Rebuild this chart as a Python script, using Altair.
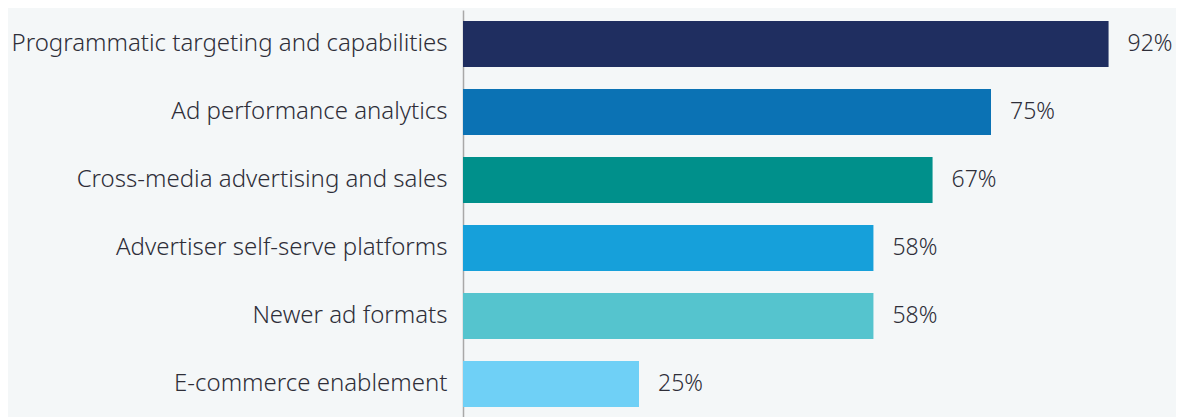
import altair as alt
import pandas as pd

categories = [
    "Programmatic targeting and capabilities",
    "Ad performance analytics",
    "Cross-media advertising and sales",
    "Advertiser self-serve platforms",
    "Newer ad formats",
    "E-commerce enablement",
]
values = [91.7, 75.0, 66.7, 58.3, 58.3, 25.0]
labels = ["92%", "75%", "67%", "58%", "58%", "25%"]
colors = ["#1f2e60", "#0b72b4", "#00908b", "#16a0da", "#55c4ce", "#6fd0f6"]

df = pd.DataFrame({"category": categories, "value": values, "label": labels, "color": colors})

FONT = "Noto Sans"
TXT = "#2e2e38"

y_enc = alt.Y(
    "category:N",
    sort=categories,
    title=None,
    scale=alt.Scale(paddingInner=0.3235, paddingOuter=0.1618),
    axis=alt.Axis(
        ticks=False,
        labelPadding=16,
        labelFont=FONT,
        labelFontSize=24,
        labelFontWeight=300,
        labelColor=TXT,
        labelLimit=600,
        domainColor="#a8a8a8",
        domainWidth=1.5,
        grid=False,
    ),
)
x_enc = alt.X("value:Q", scale=alt.Scale(domain=[0, 100]), axis=None)

bars = alt.Chart(df).mark_bar().encode(
    x=x_enc, y=y_enc, color=alt.Color("color:N", scale=None)
)
text = alt.Chart(df).mark_text(
    align="left", baseline="middle", dx=19, font=FONT, fontSize=23,
    fontWeight=300, color=TXT
).encode(x=x_enc, y=alt.Y("category:N", sort=categories), text="label:N")

chart = (
    alt.layer(bars, text)
    .properties(
        width=704,
        height=408,
        autosize=alt.AutoSizeParams(type="none"),
        padding={"left": 455, "top": 2, "right": 9, "bottom": 0},
        background="#f4f7f8",
    )
    .configure_view(stroke=None)
)

chart.save("out.html", embed_options={"renderer": "svg", "actions": False})
